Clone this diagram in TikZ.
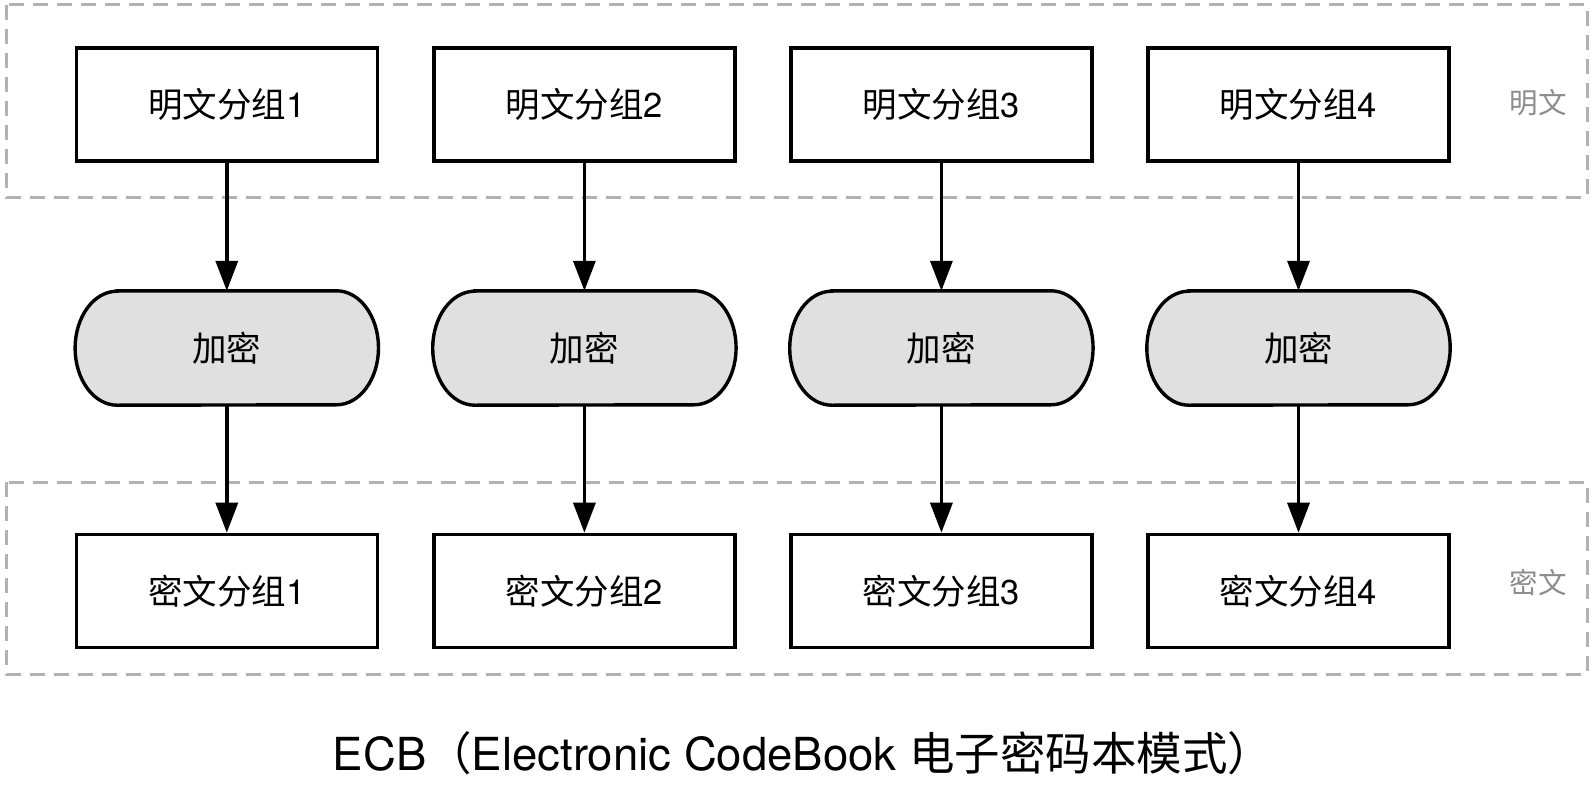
\documentclass[tikz,border=0pt]{standalone}
\usepackage{fontspec}
\setmainfont{TeX Gyre Heros}
\newfontfamily\cjk{Noto Sans CJK SC}
\usetikzlibrary{arrows.meta,backgrounds}
\tikzset{
  block/.style={draw=black, line width=3.6pt, minimum width=301pt, minimum height=113pt, inner sep=0pt, font=\fontsize{34.5}{41}\selectfont},
  cipher/.style={minimum width=303pt, minimum height=114pt, inner sep=0pt, font=\fontsize{34.5}{41}\selectfont},
  pill/.style={draw=black, line width=3.4pt, fill=black!12},
  group/.style={draw=black!30, line width=3pt, dash pattern=on 15pt off 9pt},
  flow/.style={line width=3.4pt, -{Triangle[width=22pt,length=30pt]}},
  side/.style={text=black!45, font=\fontsize{28.5}{34}\selectfont}
}
\begin{document}
\begin{tikzpicture}
[x=1pt,y=-1pt]
\useasboundingbox (0,0) rectangle (1595,797);
% plaintext and ciphertext zones
\draw[group] (6,5) rectangle (1587,197);
\draw[group] (6,482) rectangle (1587,674);
\node[side] (plainlabel) at (1538,103) {\cjk 明文};
\node[side] (cipherlabel) at (1538,582) {\cjk 密文};
% four blocks, each encrypted on its own
\foreach \i/\x in {1/226.8, 2/584.4, 3/941.4, 4/1298.5} {
  \node[block] (plain\i) at (\x,104.5) {{\cjk 明文分组}\i};
  \node[cipher] (enc\i) at (\x,348) {\cjk 加密};
  \node[block] (ct\i) at (\x,591) {{\cjk 密文分组}\i};
  \begin{scope}[on background layer]
    \draw[pill] ([xshift=42pt]enc\i.north west) -- ([xshift=-42pt]enc\i.north east)
      arc[start angle=90, end angle=-90, x radius=42pt, y radius=57pt]
      -- ([xshift=42pt]enc\i.south west)
      arc[start angle=270, end angle=90, x radius=42pt, y radius=57pt] -- cycle;
  \end{scope}
  \draw[flow] (plain\i) -- (enc\i);
  \draw[flow] (enc\i) -- (ct\i);
}
% caption
\node[font=\fontsize{45.5}{54}\selectfont] (title) at (803,753) {ECB{\cjk （}Electronic CodeBook {\cjk 电子密码本模式）}};
\end{tikzpicture}
\end{document}
